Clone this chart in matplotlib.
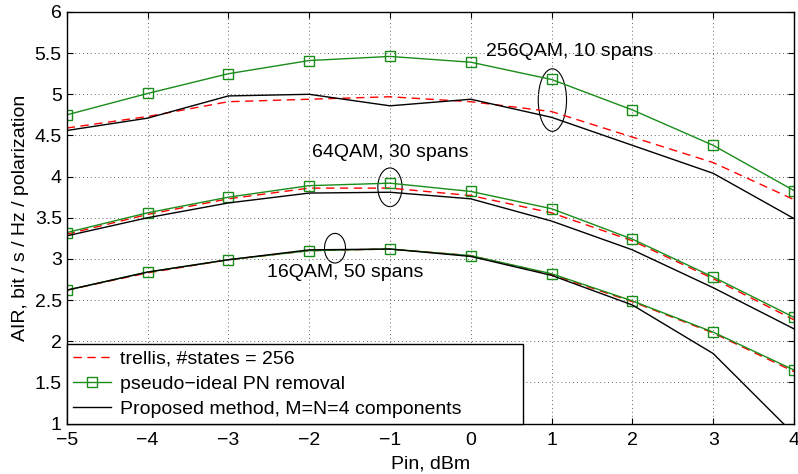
import numpy as np
import matplotlib.pyplot as plt
from matplotlib.patches import Ellipse

plt.rcParams['font.family'] = ['Liberation Sans', 'DejaVu Sans']

pin = [-5, -4, -3, -2, -1, 0, 1, 2, 3, 4]

# 256QAM, 10 spans
trellis_256 = [4.59, 4.73, 4.91, 4.94, 4.97, 4.91, 4.79, 4.48, 4.17, 3.72]
ideal_256 = [4.75, 5.01, 5.25, 5.41, 5.46, 5.39, 5.18, 4.81, 4.38, 3.83]
prop_256 = [4.56, 4.71, 4.98, 5.00, 4.86, 4.94, 4.72, 4.38, 4.04, 3.49]

# 64QAM, 30 spans
trellis_64 = [3.30, 3.54, 3.73, 3.86, 3.86, 3.77, 3.56, 3.22, 2.76, 2.26]
ideal_64 = [3.32, 3.56, 3.75, 3.89, 3.92, 3.82, 3.61, 3.24, 2.78, 2.29]
prop_64 = [3.28, 3.50, 3.68, 3.80, 3.81, 3.73, 3.46, 3.11, 2.65, 2.15]

# 16QAM, 50 spans
trellis_16 = [2.62, 2.83, 2.99, 3.10, 3.12, 3.04, 2.81, 2.48, 2.10, 1.63]
ideal_16 = [2.62, 2.84, 2.99, 3.10, 3.12, 3.04, 2.82, 2.49, 2.11, 1.65]
prop_16 = [2.62, 2.84, 2.99, 3.11, 3.12, 3.03, 2.80, 2.44, 1.85, 0.87]

green = (0.1, 0.55, 0.1)
fs = 14

fig = plt.figure(figsize=(7.98, 4.74), dpi=100)
ax = fig.add_axes([0.0836, 0.1065, 0.9114, 0.8682])

for tr, idl, pr in [(trellis_256, ideal_256, prop_256),
                    (trellis_64, ideal_64, prop_64),
                    (trellis_16, ideal_16, prop_16)]:
    l1, = ax.plot(pin, tr, '--', color='r', lw=1.0, dashes=(6, 4))
    l2, = ax.plot(pin, idl, '-s', color=green, lw=1.0, ms=6.5,
                  mfc='none', mec=green, mew=1.0)
    l3, = ax.plot(pin, pr, '-', color='k', lw=1.0)

# group markers
ax.add_patch(Ellipse((1.01, 4.93), 0.35, 0.76, fill=False, ec='k', lw=0.8))
ax.add_patch(Ellipse((-1.0, 3.87), 0.30, 0.47, fill=False, ec='k', lw=0.8))
ax.add_patch(Ellipse((-1.68, 3.13), 0.26, 0.36, fill=False, ec='k', lw=0.8))

ax.text(0.19, 5.52, '256QAM, 10 spans', fontsize=fs, va='center')
ax.text(-1.96, 4.29, '64QAM, 30 spans', fontsize=fs, va='center')
ax.text(-2.52, 2.83, '16QAM, 50 spans', fontsize=fs, va='center')

ax.set_xlim(-5, 4)
ax.set_ylim(1, 6)
ax.set_xticks(np.arange(-5, 5, 1))
ax.set_yticks(np.arange(1, 6.01, 0.5))
ax.set_yticklabels(['1', '1.5', '2', '2.5', '3', '3.5', '4', '4.5', '5', '5.5', '6'])
ax.tick_params(direction='in', top=True, right=True, labelsize=fs, length=4)
ax.tick_params(axis='x', pad=6)
ax.grid(True, linestyle=(0, (1, 3)), color='0.4', lw=0.7)
for s in ax.spines.values():
    s.set_linewidth(1.0)

ax.set_xlabel('Pin, dBm', fontsize=fs, labelpad=5)
ax.set_ylabel('AIR, bit / s / Hz / polarization', fontsize=fs, labelpad=4)

# legend box stretched to a fixed width in the lower-left corner
leg = ax.legend([l1, l2, l3],
                ['trellis, #states = 256', 'pseudo\u2212ideal PN removal',
                 'Proposed method, M=N=4 components'],
                loc='lower left', bbox_to_anchor=(0, 0, 0.627, 0.192),
                mode='expand', borderaxespad=0, fontsize=fs,
                fancybox=False, framealpha=1, edgecolor='k',
                handlelength=2.0, handletextpad=0.45, labelspacing=0.38,
                borderpad=0.3)
leg.get_frame().set_linewidth(1.0)

fig.savefig('out.png', dpi=100)
